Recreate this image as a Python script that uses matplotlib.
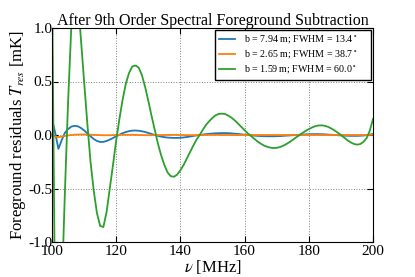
import numpy as np
import matplotlib
matplotlib.use('Agg')
import matplotlib.pyplot as plt

# frequency channels [MHz]
freq = np.arange(100, 201)

# residuals after 9th order fit [mK]
res_b794 = [0.15, 0.02, -0.13, -0.05, 0.02, 0.055, 0.078, 0.086, 0.082, 0.066,
            0.043, 0.015, -0.012, -0.037, -0.056, -0.065, -0.064, -0.056, -0.043, -0.028,
            -0.012, 0.003, 0.017, 0.028, 0.036, 0.041, 0.042, 0.04, 0.035, 0.028,
            0.019, 0.01, 0.0, -0.008, -0.015, -0.02, -0.024, -0.026, -0.027, -0.027,
            -0.026, -0.023, -0.019, -0.014, -0.009, -0.004, 0.0, 0.004, 0.008, 0.011,
            0.014, 0.016, 0.017, 0.018, 0.018, 0.017, 0.015, 0.012, 0.009, 0.006,
            0.003, 0.0, -0.003, -0.006, -0.008, -0.01, -0.011, -0.012, -0.012, -0.012,
            -0.011, -0.01, -0.008, -0.006, -0.004, -0.002, 0.0, 0.002, 0.004, 0.006,
            0.007, 0.008, 0.008, 0.008, 0.007, 0.006, 0.004, 0.002, 0.0, -0.002,
            -0.004, -0.006, -0.007, -0.008, -0.008, -0.008, -0.007, -0.005, -0.002, 0.003,
            0.01]

res_b265 = [0.0, -0.015, -0.02, -0.015, -0.009, -0.004, 0.0, 0.003, 0.004, 0.005,
            0.005, 0.004, 0.003, 0.001, 0.0, -0.001, -0.002, -0.002, -0.002, -0.001,
            0.0, 0.001, 0.002, 0.002, 0.002, 0.002, 0.001, 0.0, -0.001, -0.001,
            -0.002, -0.002, -0.001, -0.001, 0.0, 0.0, 0.001, 0.001, 0.001, 0.001,
            0.0, 0.0, -0.001, -0.001, -0.001, -0.001, 0.0, 0.0, 0.0, 0.001,
            0.001, 0.001, 0.001, 0.0, 0.0, 0.0, -0.001, -0.001, -0.001, 0.0,
            0.0, 0.0, 0.0, 0.0, 0.0, 0.0, 0.0, 0.0, 0.0, 0.0,
            0.0, 0.0, 0.0, 0.0, 0.0, 0.0, 0.0, 0.0, 0.0, 0.0,
            0.0, 0.0, 0.0, 0.0, 0.0, 0.0, 0.0, 0.0, 0.0, 0.0,
            0.0, 0.0, 0.0, 0.0, 0.0, 0.0, 0.0, 0.0, 0.0, 0.001,
            0.002]

res_b159 = [1.5, -1.8, -2.2, -1.5, -0.55, 0.3, 1.0, 1.35, 1.3, 0.9,
            0.5, 0.11, -0.25, -0.52, -0.73, -0.85, -0.86, -0.72, -0.5, -0.28,
            -0.05, 0.15, 0.33, 0.48, 0.58, 0.64, 0.65, 0.63, 0.56, 0.45,
            0.32, 0.18, 0.05, -0.08, -0.19, -0.28, -0.35, -0.385, -0.39, -0.37,
            -0.33, -0.28, -0.22, -0.16, -0.1, -0.045, 0.0, 0.05, 0.095, 0.13,
            0.16, 0.185, 0.197, 0.2, 0.195, 0.18, 0.16, 0.135, 0.105, 0.075,
            0.045, 0.015, -0.01, -0.035, -0.06, -0.08, -0.098, -0.11, -0.118, -0.122,
            -0.12, -0.113, -0.1, -0.085, -0.066, -0.045, -0.023, -0.003, 0.018, 0.038,
            0.055, 0.07, 0.082, 0.089, 0.09, 0.086, 0.076, 0.061, 0.043, 0.022,
            0.0, -0.024, -0.048, -0.068, -0.083, -0.09, -0.085, -0.065, -0.03, 0.04,
            0.15]

labels = ['b = 7.94 m; FWHM = 13.4$^\\circ$    ',
          'b = 2.65 m; FWHM = 38.7$^\\circ$    ',
          'b = 1.59 m; FWHM = 60.0$^\\circ$    ']
colors = ['#1f77b4', '#ff7f0e', '#2ca02c']

plt.rcParams['font.family'] = 'Liberation Serif'
plt.rcParams['mathtext.fontset'] = 'stix'
plt.rcParams['axes.unicode_minus'] = False

fig = plt.figure(figsize=(4.15, 2.77), dpi=100)
ax = fig.add_axes([52 / 415, 1 - 242 / 277, 321 / 415, 214 / 277])

for y, lab, c in zip([res_b794, res_b265, res_b159], labels, colors):
    ax.plot(freq, y, color=c, lw=1.3, label=lab)

ax.set_xlim(100, 200)
ax.set_ylim(-1, 1)
ax.set_xticks([100, 120, 140, 160, 180, 200])
ax.set_yticks([-1.0, -0.5, 0.0, 0.5, 1.0])
ax.grid(True, linestyle=':', color='#808080', lw=0.7)
ax.tick_params(direction='in', top=True, right=True, length=4, labelsize=11)
ax.tick_params(axis='x', pad=2)
ax.tick_params(axis='y', pad=-0.5)

ax.set_title('After 9th Order Spectral Foreground Subtraction', fontsize=11.5, pad=2)
ax.set_xlabel(r'$\nu$ [MHz]', fontsize=12, labelpad=0)
ax.set_ylabel(r'Foreground residuals $T_{res}$ [mK]', fontsize=12, labelpad=0.5)

ax.legend(loc='upper right', fontsize=7.2, fancybox=False, edgecolor='black',
          framealpha=1, labelspacing=0.3, borderaxespad=0.2,
          handlelength=1.6, handletextpad=0.9)

plt.savefig('out.png', dpi=100)
